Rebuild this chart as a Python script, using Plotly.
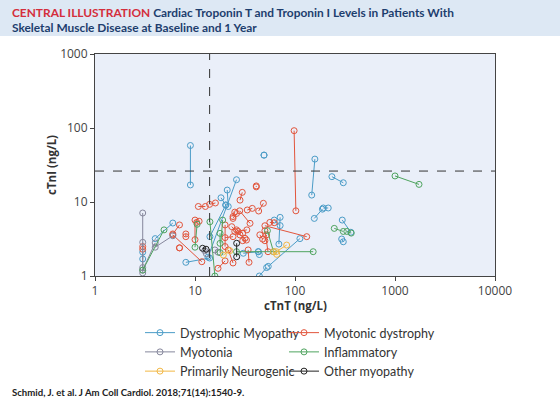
import plotly.graph_objects as go

# ---- data: baseline and 1-year values per patient (cTnT, cTnI in ng/L) ----
dm_tnt_base = [9, 49, 158, 234, 156, 192, 297, 293, 3, 4, 13.5, 21, 18.2, 14.1, 71, 62, 112, 44, 43, 30.4, 8.1]
dm_tni_base = [58, 43, 38, 22, 6.0, 8.3, 5.7, 3.16, 2.1, 3.2, 1.8, 14.5, 11.4, 3.4, 6.2, 5.7, 3.2, 1.0, 2.13, 2.03, 1.53]
dm_tnt_1y = [9, 49, 147, 304, 188, 215, 362, 304, 3, 6, 26, 21.5, 20.3, 20.3, 69, 71, 54, 52, 44, 43, 14]
dm_tni_1y = [17, 43, 12.4, 18.2, 8.0, 8.3, 3.9, 2.9, 1.7, 5.2, 20, 8.7, 9.1, 9.1, 2.7, 4.8, 1.35, 1.3, 1.95, 2.13, 1.75]

md_tnt_base = [98, 10.8, 14, 10, 10.4, 8.1, 7, 6, 7, 29.7, 41, 48.3, 33.3, 25, 35.5, 50, 56, 50, 23.3, 31.6, 21.5, 34, 20, 17, 26, 24, 30, 3, 44.5, 52, 27, 24]
md_tni_base = [92, 8.7, 9.3, 5.7, 5.3, 3.4, 4.9, 3.6, 2.4, 13.5, 16, 9.6, 7.8, 7.3, 5.15, 4.78, 5.3, 4.1, 4.64, 3.23, 2.25, 2.25, 4.9, 1.27, 4.2, 3.4, 3.0, 2.5, 3.6, 3.6, 4.0, 6.0]
md_tnt_1y = [102, 12.7, 16, 10, 11, 8.1, 6, 11.7, 7, 28.2, 41, 43.3, 37.4, 24, 28, 131, 62, 53.7, 28.2, 25, 24, 34.7, 20, 20, 30, 20, 32.7, 3, 47.5, 50, 33, 26]
md_tni_1y = [7.6, 8.7, 9.7, 3.1, 5.5, 3.7, 3.7, 1.56, 2.4, 10.6, 16.5, 7.55, 8.2, 6.35, 7.6, 3.4, 5.25, 2.13, 3.58, 4.0, 1.5, 1.53, 2.5, 1.6, 3.8, 3.3, 3.06, 2.3, 3.15, 3.0, 4.2, 7.0]

mt_tnt_base = [3, 3, 3, 4, 12.5, 15.8]
mt_tni_base = [7.1, 2.85, 1.2, 2.45, 2.2, 2.25]
mt_tnt_1y = [3, 3, 4, 6, 13, 17]
mt_tni_1y = [1.1, 1.3, 2.8, 3.5, 2.0, 2.1]

inf_tnt_base = [1000, 247, 330, 4.9, 14.1, 10, 18.9, 17.8, 26, 53]
inf_tni_base = [22.5, 4.4, 4.0, 4.2, 5.4, 2.45, 5.7, 3.77, 2.13, 4.1]
inf_tnt_1y = [1738, 304, 365, 3.0, 15.8, 10.5, 17.8, 17.8, 152, 61]
inf_tni_1y = [17.3, 4.0, 3.8, 1.2, 1.0, 5.0, 2.07, 2.76, 2.13, 2.13]

pn_tnt_base = [19.2, 61, 65]
pn_tni_base = [1.92, 2.13, 2.13]
pn_tnt_1y = [22.3, 65.8, 82.5]
pn_tni_1y = [2.2, 1.96, 2.62]

om_tnt_base = [11.9, 26.1]
om_tni_base = [2.37, 2.77]
om_tnt_1y = [12.9, 26.1]
om_tni_1y = [2.3, 1.82]

groups = [
    ("Dystrophic Myopathy", "#4b9cc7", dm_tnt_base, dm_tni_base, dm_tnt_1y, dm_tni_1y, "legend"),
    ("Myotonic dystrophy", "#e2553c", md_tnt_base, md_tni_base, md_tnt_1y, md_tni_1y, "legend2"),
    ("Myotonia", "#86879c", mt_tnt_base, mt_tni_base, mt_tnt_1y, mt_tni_1y, "legend"),
    ("Inflammatory", "#4fa45f", inf_tnt_base, inf_tni_base, inf_tnt_1y, inf_tni_1y, "legend2"),
    ("Primarily Neurogenic", "#f2b845", pn_tnt_base, pn_tni_base, pn_tnt_1y, pn_tni_1y, "legend"),
    ("Other myopathy", "#222222", om_tnt_base, om_tni_base, om_tnt_1y, om_tni_1y, "legend2"),
]

tnt_cut = 14
tni_cut = 26.2

x_ticks = [1, 10, 100, 1000, 10000]
y_ticks = [1, 10, 100, 1000]

fig = go.Figure()
for name, color, xb, yb, xf, yf, leg in groups:
    xs, ys = [], []
    for a, b, c, d in zip(xb, yb, xf, yf):
        xs += [a, c, None]
        ys += [b, d, None]
    fig.add_trace(go.Scatter(
        x=xs, y=ys, mode="lines+markers", name=name, legend=leg,
        line=dict(color=color, width=1),
        marker=dict(symbol="circle-open", size=6, color=color, line=dict(width=1)),
        connectgaps=False,
    ))

# reference lines
fig.add_shape(type="line", xref="x", yref="paper", x0=tnt_cut, x1=tnt_cut, y0=0, y1=1,
              line=dict(color="#333", width=1, dash="dash"))
fig.add_shape(type="line", xref="paper", yref="y", x0=0, x1=1, y0=tni_cut, y1=tni_cut,
              line=dict(color="#333", width=1, dash="dash"))

W, H = 560, 399
L, R, T, B = 95, 65, 54, 123
pw, ph = W - L - R, H - T - B

def px2x(p):
    return (p - L) / pw

def py2y(p):
    return (H - B - p) / ph

# title band
fig.add_shape(type="rect", xref="paper", yref="paper", x0=px2x(0), x1=px2x(W),
              y0=py2y(36), y1=py2y(0), fillcolor="#dde8f4", line=dict(width=0), layer="below")

fig.add_annotation(
    x=px2x(10), y=py2y(3), xref="paper", yref="paper", xanchor="left", yanchor="top",
    align="left", showarrow=False,
    text=("<b><span style='color:#d42e3c'>CENTRAL ILLUSTRATION</span> "
          "<span style='color:#1d3e6e'>Cardiac Troponin T and Troponin I Levels in Patients With</span></b><br>"
          "<b><span style='color:#1d3e6e'>Skeletal Muscle Disease at Baseline and 1 Year</span></b>"),
    font=dict(family="Lato", size=11.9, color="#1d3e6e"),
)
fig.add_annotation(
    x=px2x(295), y=py2y(305), xref="paper", yref="paper", showarrow=False,
    xanchor="center", yanchor="middle",
    text="<b>cTnT (ng/L)</b>", font=dict(family="Open Sans", size=11.5, color="#333"),
)
fig.add_annotation(
    x=px2x(51), y=py2y(165), xref="paper", yref="paper", showarrow=False, textangle=-90,
    xanchor="center", yanchor="middle",
    text="<b>cTnI (ng/L)</b>", font=dict(family="Open Sans", size=11.5, color="#333"),
)
fig.add_annotation(
    x=px2x(10), y=py2y(392), xref="paper", yref="paper", xanchor="left", yanchor="middle",
    showarrow=False,
    text="<b>Schmid, J. et al. J Am Coll Cardiol. 2018;71(14):1540-9.</b>",
    font=dict(family="Lato", size=9.6, color="#222"),
)

axis_common = dict(type="log", showgrid=False, zeroline=False, showline=True, mirror=True,
                   linecolor="#444", linewidth=1, ticks="outside", ticklen=4, tickcolor="#444",
                   tickfont=dict(family="Open Sans", size=12, color="#444"))
fig.update_xaxes(range=[0, 4], tickvals=x_ticks, ticktext=[str(v) for v in x_ticks], **axis_common)
fig.update_yaxes(range=[0, 3], tickvals=y_ticks, ticktext=[str(v) for v in y_ticks], **axis_common)

leg_common = dict(orientation="v", yanchor="top", bgcolor="rgba(0,0,0,0)", tracegroupgap=0,
                  font=dict(family="Lato", size=12.5, color="#333"), itemwidth=30)
fig.update_layout(
    width=W, height=H, margin=dict(l=L, r=R, t=T, b=B, autoexpand=False),
    paper_bgcolor="white", plot_bgcolor="#eaeff9",
    showlegend=True,
    legend=dict(x=px2x(140), y=py2y(318), xanchor="left", **leg_common),
    legend2=dict(x=px2x(284), y=py2y(318), xanchor="left", **leg_common),
)

fig.write_html("out.html", config={"displayModeBar": False},
               post_script="document.body.style.margin='0px';")
